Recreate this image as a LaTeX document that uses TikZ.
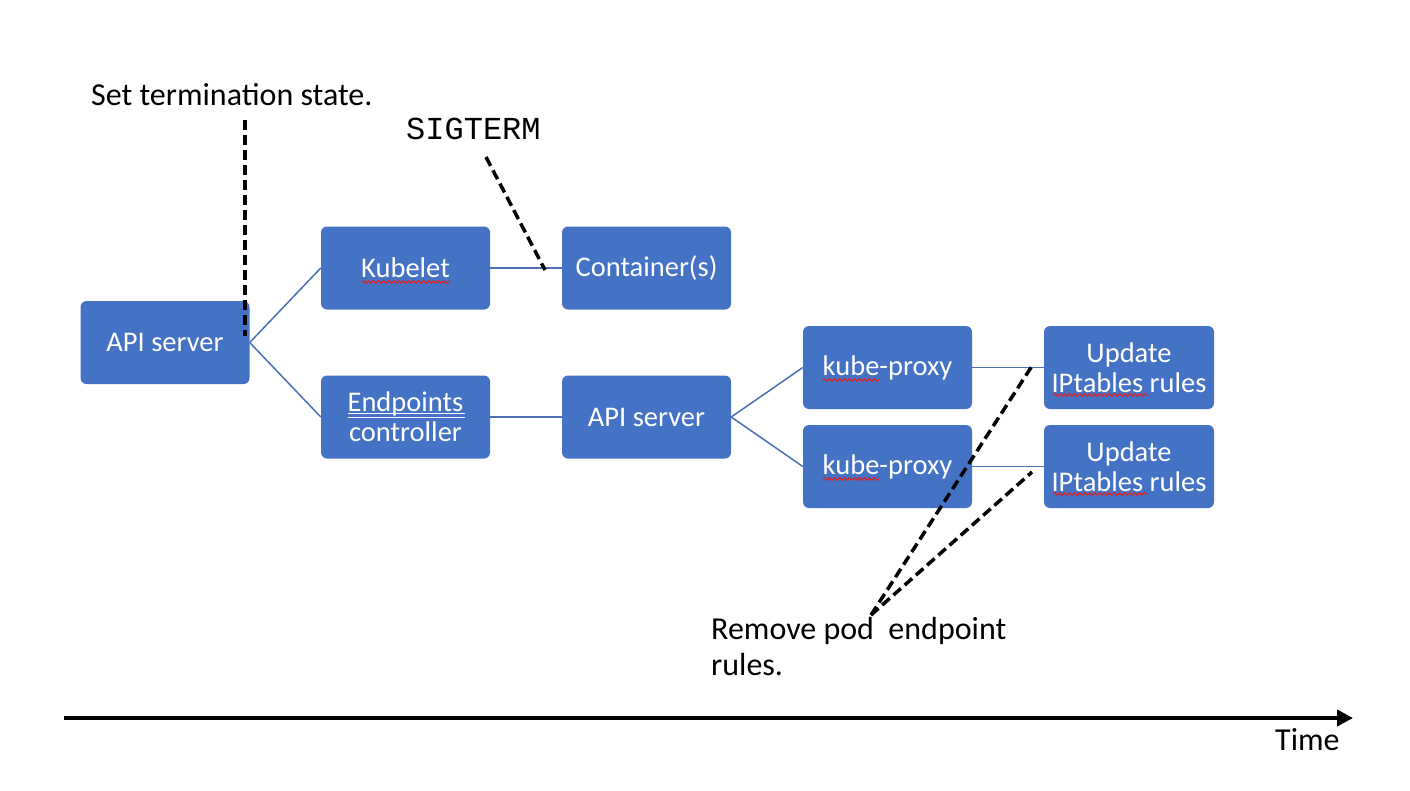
\documentclass[tikz,border=0pt]{standalone}
\usepackage{fontspec}
\setmainfont{Carlito}
\newfontfamily\monofnt{Liberation Mono}
\usetikzlibrary{arrows.meta,decorations.pathmorphing}
\definecolor{boxblue}{HTML}{4472C4}
\definecolor{linkblue}{HTML}{4A6FB5}
\definecolor{squig}{HTML}{D9262B}
\tikzset{
  box/.style={draw=none, fill=boxblue, rounded corners=6bp, minimum width=169bp, minimum height=83bp,
    inner sep=0pt, text=white, align=center, font=\fontsize{28.5bp}{30bp}\selectfont},
  link/.style={draw=linkblue, line width=1.5bp},
  marker/.style={draw=black, line width=3.5bp, dash pattern=on 10bp off 5bp},
  lbl/.style={inner sep=0pt, font=\fontsize{32bp}{36bp}\selectfont, align=left},
  squiggle/.style={draw=squig, line width=1.2bp, decorate, decoration={snake, segment length=5bp, amplitude=1.3bp}},
}
\begin{document}
\begin{tikzpicture}[x=1bp,y=-1bp]
\useasboundingbox (0,0) rectangle (1410,790);

% boxes
\node[box] (api1) at (165,342.5) {API server};
\node[box] (kubelet) at (405.5,268) {Kubelet};
\node[box] (cont) at (646.5,268) {Container(s)};
\node[box] (endp) at (405.5,417) {Endpoints\\controller};
\node[box] (api2) at (646.5,417) {API server};
\node[box] (kp1) at (887.5,367.5) {kube-proxy};
\node[box] (kp2) at (887.5,466.5) {kube-proxy};
\node[box, minimum width=170bp] (up1) at (1129,367.5) {Update\\IPtables rules};
\node[box, minimum width=170bp] (up2) at (1129,466.5) {Update\\IPtables rules};

% connectors
\draw[link] (api1.east) -- (kubelet.west);
\draw[link] (api1.east) -- (endp.west);
\draw[link] (kubelet.east) -- (cont.west);
\draw[link] (endp.east) -- (api2.west);
\draw[link] (api2.east) -- (kp1.west);
\draw[link] (api2.east) -- (kp2.west);
\draw[link] (kp1.east) -- (up1.west);
\draw[link] (kp2.east) -- (up2.west);

% spell-check marks
\draw[squiggle] (362,282) -- (450,282);
\draw[squiggle] (823,380) -- (879,380);
\draw[squiggle] (823,479) -- (879,479);
\draw[squiggle] (1053,395) -- (1148,395);
\draw[squiggle] (1053,494) -- (1148,494);
\draw[white, line width=1bp] (348,413) -- (465,413);
\draw[white, line width=1bp] (348,417) -- (465,417);

% labels
\node[lbl, anchor=base west] (setterm) at (91,105) {Set termination state.};
\node[inner sep=0pt, anchor=base west, font=\monofnt\fontsize{32bp}{34bp}\selectfont] (sigterm) at (406,139) {SIGTERM};
\node[lbl, anchor=base west] (remove) at (711,675) {Remove pod\ \ endpoint\\rules.};
\node[lbl, anchor=base west] (time) at (1275,750) {Time};

% dashed markers
\coordinate (m1top) at (245,120);
\coordinate (m1bot) at (245,336);
\draw[marker] (m1top) -- (m1bot);
\coordinate (m2top) at (486,157);
\coordinate (m2bot) at (545,270);
\draw[marker] (m2top) -- (m2bot);
\coordinate (m3) at (871,615);
\coordinate (m3a) at (1032,366);
\coordinate (m3b) at (1032,472);
\draw[marker] (m3) -- (m3a);
\draw[marker] (m3) -- (m3b);

% time axis
\coordinate (tstart) at (64,718);
\coordinate (tend) at (1353,718);
\draw[line width=4bp, -{Triangle[length=16bp,width=16bp]}] (tstart) -- (tend);
\end{tikzpicture}
\end{document}
